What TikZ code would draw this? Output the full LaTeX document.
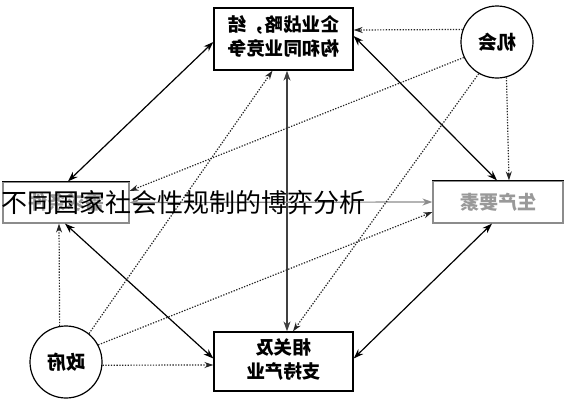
\documentclass[tikz,border=0pt]{standalone}
\usepackage{fontspec}
\setmainfont{Noto Sans CJK SC}
\usepackage{graphicx}
\usetikzlibrary{arrows.meta}
\tikzset{
  boxnode/.style={draw=black, line width=1.3pt, inner sep=0pt, font=\fontsize{18.5}{24}\selectfont\bfseries},
  sidebox/.style={draw=black!45, line width=1.2pt, inner sep=0pt, text=black!40, font=\fontsize{19}{24}\selectfont\bfseries},
  circnode/.style={circle, draw=black, line width=1.2pt, minimum size=72pt, inner sep=0pt, font=\fontsize{19}{24}\selectfont\bfseries},
  link/.style={line width=1.2pt, {Stealth[length=10pt,width=7pt]}-{Stealth[length=10pt,width=7pt]}},
  glink/.style={link, draw=black!45},
  dotlink/.style={line width=1.2pt, dash pattern=on 1.3pt off 1.5pt, draw=black!85, -{Stealth[length=9pt,width=6pt]}},
  overlay text/.style={anchor=west, inner sep=0pt, font=\fontsize{26}{26}\selectfont}
}
\newcommand{\mirr}[1]{\reflectbox{#1}}
\newcommand{\mirrtwo}[2]{\reflectbox{\begin{tabular}{@{}c@{}}#1\\#2\end{tabular}}}
\begin{document}
\begin{tikzpicture}[x=1pt,y=-1pt]
\useasboundingbox (0,0) rectangle (565,400);
\node[boxnode, minimum width=139pt, minimum height=62pt] (top) at (283.5,39) {\mirrtwo{企业战略，结}{构和同业竞争}};
\node[boxnode, minimum width=139pt, minimum height=59pt] (bot) at (283.5,361.5) {\mirrtwo{相关及}{支持产业}};
\node[sidebox, minimum width=126pt, minimum height=41pt] (left) at (66,202.5) {\mirr{需求条件}};
\node[sidebox, minimum width=130pt, minimum height=42pt] (right) at (498,202) {\mirr{生产要素}};
\node[circnode] (jh) at (497,42) {\mirr{机会}};
\node[circnode] (zf) at (66,362) {\mirr{政府}};
\draw[line width=1.3pt] (left.north west) -- (left.north east);
\draw[line width=1.3pt] (right.north west) -- (right.north east);
% solid double arrows
\draw[link] ([yshift=-3pt]top.west) -- ([xshift=2pt]left.north);
\draw[link, draw=black!75] ([xshift=3.5pt]top.south) -- ([xshift=3.5pt]bot.north);
\draw[link] ([yshift=3pt]top.east) -- ([xshift=-1pt]right.north);
\draw[link] ([xshift=-6pt]right.south) -- ([yshift=3pt]bot.east);
\draw[link] ([xshift=-1pt]left.south) -- ([yshift=3pt]bot.west);
\draw[glink] (left.east) -- (right.west);
% dotted arrows
\draw[dotlink] (jh.160) -- ([yshift=9pt]top.east);
\draw[dotlink] (jh.-75) -- ([xshift=11pt]right.north);
\draw[dotlink] (jh.205) -- ([yshift=11.5pt]left.east);
\draw[dotlink] (jh.240) -- ([xshift=9.5pt]bot.north);
\draw[dotlink] (zf.100) -- ([xshift=-7pt]left.south);
\draw[dotlink] (zf.-5) -- ([yshift=-3.5pt]bot.west);
\draw[dotlink] (zf.51) -- ([xshift=-11pt]top.south);
\draw[dotlink] (zf.28) -- ([yshift=-10pt]right.west);
% overlay caption
\node[overlay text] (ov) at (1,203) {不同国家社会性规制的博弈分析};
\end{tikzpicture}
\end{document}
